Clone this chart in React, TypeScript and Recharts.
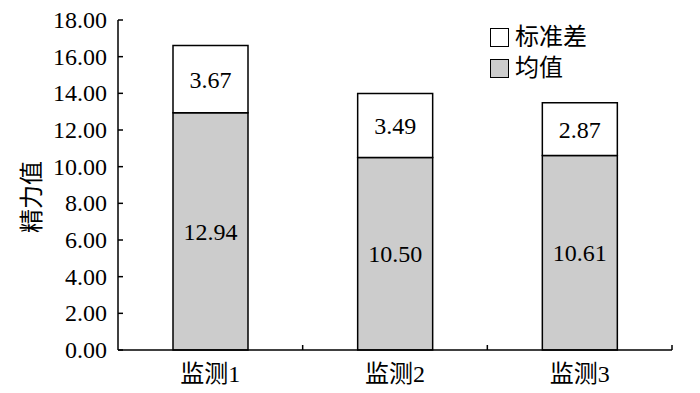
import { BarChart, Bar, XAxis, YAxis, LabelList } from 'recharts'

const categories = ['监测1', '监测2', '监测3']
const meanValues = [12.94, 10.5, 10.61]
const stdValues = [3.67, 3.49, 2.87]
const yTicks = [0, 2, 4, 6, 8, 10, 12, 14, 16, 18]
const legendItems = [
  { name: '标准差', fill: '#ffffff' },
  { name: '均值', fill: '#cccccc' },
]

const serif = '"Liberation Serif", "Noto Sans CJK SC", serif'
const W = 700
const H = 393
const margin = { top: 20, right: 28, bottom: 0, left: 18 }
const yAxisWidth = 100
const xAxisHeight = 43
// width of one category band, used to put x ticks on band edges
const band = (W - margin.left - margin.right - yAxisWidth) / categories.length

const data = categories.map((name, i) => ({ name, mean: meanValues[i], std: stdValues[i] }))

function YTick({ x, y, payload }: any) {
  return (
    <g>
      <line x1={x} x2={x + 5} y1={y} y2={y} stroke="#000" strokeWidth={1.5} />
      <text x={x - 11} y={y} dy={8} textAnchor="end" fontSize={24} fontFamily={serif} fill="#000">
        {Number(payload.value).toFixed(2)}
      </text>
    </g>
  )
}

function XTick({ x, y, payload }: any) {
  return (
    <g>
      <line x1={x + band / 2} x2={x + band / 2} y1={y} y2={y - 5} stroke="#000" strokeWidth={1.5} />
      <text x={x} y={y} dy={32} textAnchor="middle" fontSize={24} fontFamily={serif} fill="#000">
        {payload.value}
      </text>
    </g>
  )
}

function LegendBox() {
  return (
    <div style={{ position: 'absolute', left: 490, top: 22, fontFamily: serif, fontSize: 24, lineHeight: '31px', color: '#000' }}>
      {legendItems.map((it) => (
        <div key={it.name} style={{ display: 'flex', alignItems: 'center' }}>
          <span style={{ display: 'inline-block', width: 17, height: 17, background: it.fill, border: '1.5px solid #000', marginRight: 6 }} />
          <span>{it.name}</span>
        </div>
      ))}
    </div>
  )
}

const labelStyle = { fontSize: 24, fontFamily: serif, fill: '#000' }

export default function App() {
  return (
    <div style={{ position: 'absolute', left: 0, top: 0, width: W, height: H, background: '#fff' }}>
      <BarChart width={W} height={H} data={data} margin={margin} barSize={75}>
        <XAxis
          dataKey="name"
          axisLine={{ stroke: '#000', strokeWidth: 1.5 }}
          tickLine={false}
          tickSize={0}
          tickMargin={0}
          height={xAxisHeight}
          tick={<XTick />}
          interval={0}
        />
        <YAxis
          domain={[0, 18]}
          ticks={yTicks}
          width={yAxisWidth}
          axisLine={{ stroke: '#000', strokeWidth: 1.5 }}
          tickLine={false}
          tickSize={0}
          tickMargin={0}
          tick={<YTick />}
          interval={0}
          label={{
            value: '精力值',
            angle: -90,
            position: 'insideLeft',
            dx: 8,
            dy: 12,
            style: { fontSize: 24, fontFamily: serif, fill: '#000', textAnchor: 'middle' },
          }}
        />
        <Bar dataKey="mean" stackId="a" fill="#cccccc" stroke="#000" strokeWidth={1.5} isAnimationActive={false}>
          <LabelList dataKey="mean" position="center" formatter={(v: any) => Number(v).toFixed(2)} style={labelStyle} />
        </Bar>
        <Bar dataKey="std" stackId="a" fill="#ffffff" stroke="#000" strokeWidth={1.5} isAnimationActive={false}>
          <LabelList dataKey="std" position="center" formatter={(v: any) => Number(v).toFixed(2)} style={labelStyle} />
        </Bar>
      </BarChart>
      <LegendBox />
    </div>
  )
}
